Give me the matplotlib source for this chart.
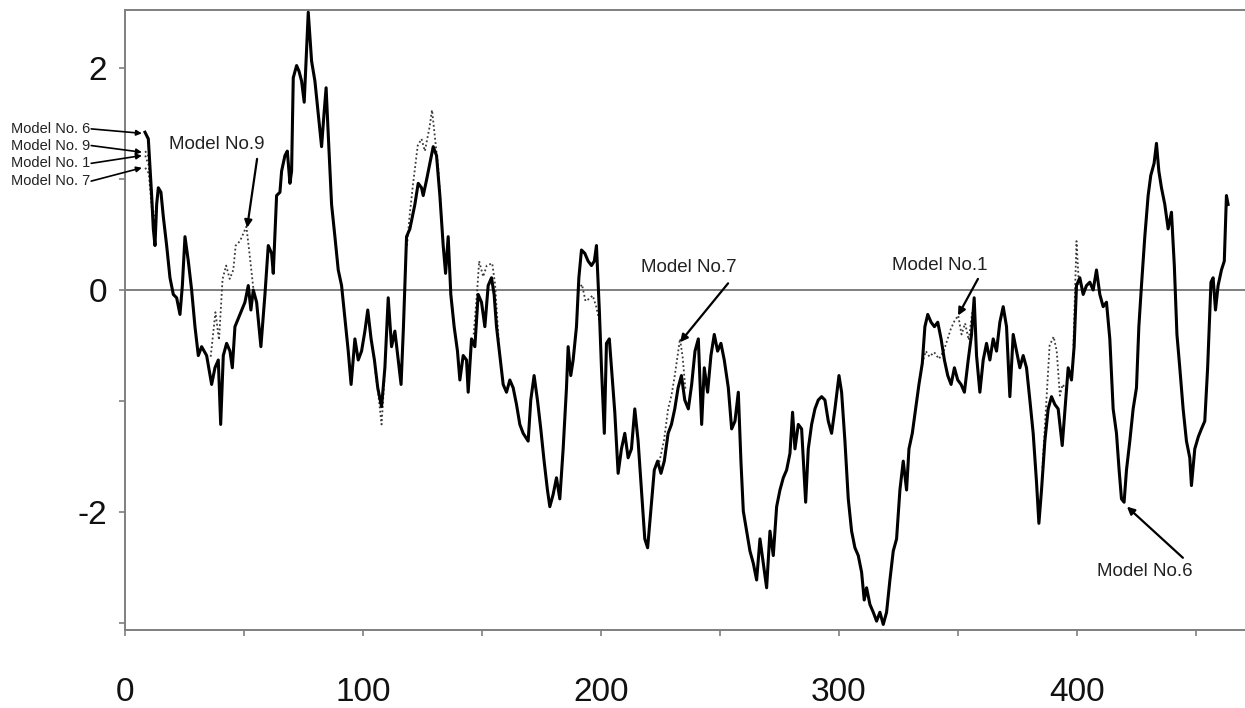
#%% import packages
import numpy as np
import matplotlib
matplotlib.use('Agg')
import matplotlib.pyplot as plt
from matplotlib import font_manager

plt.rcParams['axes.unicode_minus'] = False

#%% data
# main (solid) trace, Model No.6
x_main = [8.4, 9.8, 11.2, 11.9, 12.6, 13.3, 14.0, 15.1, 16.1, 17.5, 18.9, 20.3, 21.7, 23.1, 24.1, 25.2,
          26.6, 28.0, 29.4, 30.8, 32.2, 34.3, 36.4, 37.8, 39.2, 40.2, 41.3, 42.7, 44.1, 45.1, 46.2, 48.3,
          50.4, 51.8, 52.9, 53.9, 55.3, 57.1, 58.8, 60.2, 61.6, 62.3, 63.7, 65.1, 65.8, 67.2, 68.2, 69.3,
          70.0, 70.7, 72.1, 73.1, 74.2, 75.3, 76.3, 77.0, 78.4, 79.8, 81.2, 82.6, 83.6, 84.5, 85.4, 86.8,
          88.2, 89.6, 91.0, 92.4, 93.8, 95.0, 96.6, 98.0, 99.4, 100.8, 102.0, 103.4, 104.8, 106.2, 107.8,
          109.2, 110.6, 112.0, 113.4, 114.8, 116.0, 117.0, 118.3, 119.7, 121.8, 123.2, 124.6, 125.3,
          126.7, 128.1, 129.5, 130.9, 132.3, 133.7, 134.7, 135.8, 136.9, 138.3, 139.7, 140.7, 142.1,
          143.5, 144.2, 145.6, 147.0, 148.4, 149.8, 151.2, 152.6, 154.0, 155.1, 156.1, 157.5, 158.9,
          160.3, 161.7, 163.1, 164.5, 165.9, 167.3, 169.4, 170.5, 171.9, 173.3, 174.7, 176.1, 177.5,
          178.5, 179.9, 181.3, 182.7, 184.1, 185.5, 186.2, 187.3, 188.3, 189.7, 190.7, 191.8, 193.2,
          194.6, 196.0, 197.2, 198.1, 199.3, 200.2, 201.4, 202.3, 203.5, 204.4, 205.8, 207.2, 208.6,
          210.0, 211.4, 212.8, 214.2, 215.6, 217.0, 218.4, 219.6, 220.9, 222.4, 223.8, 225.2, 226.6,
          228.2, 229.6, 231.0, 232.4, 233.8, 235.2, 236.7, 238.1, 239.5, 240.9, 242.3, 243.4, 244.8,
          246.2, 247.6, 249.0, 250.4, 251.8, 253.5, 254.9, 256.3, 257.7, 258.8, 259.8, 261.2, 262.6,
          264.0, 265.4, 266.8, 268.2, 269.6, 271.0, 272.4, 273.8, 275.2, 276.6, 278.0, 279.4, 280.5,
          281.5, 282.9, 284.3, 286.0, 287.1, 288.5, 289.9, 291.3, 292.7, 294.1, 295.5, 296.9, 298.3,
          300.0, 301.1, 302.5, 303.9, 305.3, 306.7, 308.1, 309.5, 310.6, 311.6, 313.0, 314.4, 315.8,
          317.2, 318.6, 320.0, 321.4, 322.8, 324.2, 325.6, 327.0, 328.4, 329.4, 330.8, 332.2, 333.6,
          335.0, 336.1, 337.3, 338.7, 340.1, 341.5, 342.9, 344.3, 345.7, 347.1, 348.5, 349.9, 351.3,
          352.7, 354.3, 355.7, 356.8, 357.8, 359.2, 360.6, 362.0, 363.4, 364.8, 366.2, 367.6, 369.0,
          370.4, 371.8, 373.2, 374.6, 376.0, 377.4, 378.8, 380.2, 381.6, 383.0, 384.0, 385.1, 386.5,
          387.9, 389.3, 390.7, 392.1, 393.8, 395.0, 396.3, 397.7, 398.8, 399.8, 401.2, 402.6, 404.0,
          405.4, 406.8, 408.2, 409.6, 411.0, 412.4, 413.8, 415.2, 416.6, 417.7, 418.7, 419.8, 420.8,
          422.2, 423.6, 425.0, 426.0, 427.1, 428.5, 429.9, 431.0, 432.4, 433.4, 434.4, 435.5, 436.9,
          438.3, 439.7, 440.9, 442.0, 443.2, 444.6, 446.0, 447.4, 448.1, 449.5, 451.0, 452.3, 453.7,
          454.9, 456.3, 457.2, 458.2, 459.3, 460.7, 461.9, 462.8, 463.5]
y_main = [1.42, 1.36, 0.85, 0.55, 0.40, 0.77, 0.92, 0.88, 0.66, 0.40, 0.11, -0.04, -0.07, -0.22, 0.04, 0.48,
          0.26, 0.00, -0.33, -0.59, -0.51, -0.59, -0.85, -0.70, -0.63, -1.21, -0.59, -0.48, -0.55, -0.70, -0.33, -0.22,
          -0.11, 0.04, -0.18, 0.00, -0.11, -0.51, -0.04, 0.40, 0.33, 0.15, 0.85, 0.88, 1.07, 1.21, 1.25, 0.96,
          1.07, 1.91, 2.02, 1.97, 1.88, 1.69, 2.17, 2.50, 2.06, 1.88, 1.58, 1.29, 1.58, 1.82, 1.40, 0.77,
          0.48, 0.18, 0.04, -0.26, -0.55, -0.85, -0.44, -0.63, -0.55, -0.37, -0.18, -0.44, -0.63, -0.88, -1.05,
          -0.70, -0.07, -0.51, -0.37, -0.63, -0.85, -0.33, 0.48, 0.55, 0.77, 0.96, 0.92, 0.85,
          0.99, 1.14, 1.29, 1.21, 0.85, 0.40, 0.15, 0.48, -0.04, -0.33, -0.55, -0.81, -0.59,
          -0.63, -0.92, -0.44, -0.51, -0.04, -0.11, -0.33, 0.04, 0.11, -0.04, -0.33, -0.59, -0.85,
          -0.92, -0.81, -0.88, -1.03, -1.21, -1.29, -1.36, -0.99, -0.77, -0.99, -1.25, -1.54, -1.80,
          -1.95, -1.84, -1.69, -1.88, -1.43, -0.88, -0.51, -0.77, -0.63, -0.33, 0.11, 0.36, 0.33,
          0.26, 0.22, 0.26, 0.40, -0.18, -0.70, -1.29, -0.48, -0.44, -0.70, -1.10, -1.65, -1.43,
          -1.29, -1.51, -1.43, -1.07, -1.36, -1.80, -2.24, -2.32, -1.99, -1.62, -1.54, -1.65, -1.54,
          -1.29, -1.21, -1.07, -0.88, -0.77, -0.99, -1.07, -0.85, -0.55, -0.44, -1.21, -0.70, -0.92,
          -0.59, -0.40, -0.55, -0.48, -0.63, -0.88, -1.25, -1.18, -0.92, -1.54, -1.99, -2.17, -2.35,
          -2.46, -2.61, -2.24, -2.46, -2.68, -2.17, -2.39, -1.95, -1.80, -1.69, -1.62, -1.47, -1.10,
          -1.43, -1.21, -1.25, -1.91, -1.43, -1.21, -1.07, -0.99, -0.96, -0.99, -1.18, -1.29, -1.07,
          -0.77, -0.92, -1.36, -1.88, -2.17, -2.32, -2.39, -2.54, -2.79, -2.68, -2.83, -2.90, -2.98,
          -2.90, -3.01, -2.90, -2.61, -2.35, -2.24, -1.80, -1.54, -1.80, -1.43, -1.29, -1.07, -0.85,
          -0.66, -0.33, -0.22, -0.29, -0.33, -0.29, -0.44, -0.63, -0.77, -0.85, -0.70, -0.81, -0.85,
          -0.92, -0.63, -0.40, -0.07, -0.59, -0.92, -0.63, -0.48, -0.63, -0.44, -0.55, -0.29, -0.15,
          -0.33, -0.96, -0.40, -0.55, -0.70, -0.59, -0.70, -0.99, -1.29, -1.73, -2.10, -1.80, -1.36,
          -1.07, -0.96, -1.03, -1.07, -1.40, -1.07, -0.70, -0.81, -0.51, 0.04, 0.11, -0.04, 0.04,
          0.07, 0.00, 0.18, -0.04, -0.15, -0.11, -0.44, -1.07, -1.29, -1.62, -1.88, -1.91, -1.62,
          -1.36, -1.07, -0.88, -0.33, 0.04, 0.48, 0.85, 1.03, 1.14, 1.32, 1.07, 0.92, 0.77,
          0.55, 0.70, 0.22, -0.40, -0.70, -1.07, -1.36, -1.51, -1.76, -1.43, -1.32, -1.25, -1.18,
          -0.70, 0.07, 0.11, -0.18, 0.04, 0.18, 0.26, 0.85, 0.77]

# dotted models, only the stretches where they leave the main trace (nan = gap)
nan = np.nan
x_m9 = [8.5, 10.0, 11.5, 13.0, nan,
        36.0, 38.0, 39.5, 41.0, 42.5, 44.0, 45.5, 46.5, 48.3, 51.0, 52.2, 54.0, nan,
        105.0, 106.5, 107.8, 109.0, nan,
        118.5, 119.5, 121.0, 123.0, 124.6, 126.0, 128.0, 129.0, 130.2, 131.6, 133.0, nan,
        146.5, 148.0, 148.8, 150.5, 152.0, 154.3, 155.5, 157.0]
y_m9 = [1.25, 1.20, 0.75, 0.60, nan,
        -0.60, -0.20, -0.45, 0.10, 0.22, 0.10, 0.18, 0.40, 0.44, 0.57, 0.35, 0.00, nan,
        -0.70, -0.95, -1.21, -0.80, nan,
        0.40, 0.65, 0.95, 1.30, 1.36, 1.25, 1.47, 1.62, 1.38, 1.10, 0.65, nan,
        -0.40, 0.00, 0.26, 0.12, 0.22, 0.24, 0.05, -0.45]
x_m1 = [8.5, 10.0, 11.5, 12.5, nan,
        190.5, 192.0, 193.5, 195.0, 196.5, 198.0, 199.5, nan,
        335.0, 336.5, 338.0, 340.0, 342.0, 344.0, 345.5, 347.0, 348.5, 350.1, 351.5, 353.0, 354.5, 356.0]
y_m1 = [1.21, 1.12, 0.70, 0.50, nan,
        0.00, 0.05, -0.10, -0.08, -0.05, -0.15, -0.30, nan,
        -0.66, -0.55, -0.60, -0.56, -0.62, -0.55, -0.45, -0.35, -0.28, -0.23, -0.40, -0.30, -0.45, -0.20]
x_m7 = [8.5, 10.0, 11.0, 12.5, nan,
        224.5, 226.5, 228.2, 229.6, 231.0, 233.2, 234.3, 235.5, nan,
        385.5, 387.0, 388.5, 390.2, 391.5, 392.8, 394.0, 395.5, nan,
        398.5, 399.8, 400.8]
y_m7 = [1.10, 1.05, 0.80, 0.45, nan,
        -1.55, -1.35, -1.07, -0.95, -0.77, -0.44, -0.60, -0.90, nan,
        -1.60, -1.05, -0.50, -0.42, -0.55, -0.95, -0.85, -0.90, nan,
        -0.50, 0.44, 0.05]

# labels: (text, text position, arrow start, arrow tip)
side_labels = ['Model No. 6', 'Model No. 9', 'Model No. 1', 'Model No. 7']
side_text_y = [1.45, 1.30, 1.14, 0.98]
side_tip_y = [1.41, 1.24, 1.21, 1.10]
call_labels = ['Model No.9', 'Model No.7', 'Model No.1', 'Model No.6']
call_text = [(38.7, 1.31), (237.0, 0.20), (342.4, 0.22), (428.6, -2.53)]
call_from = [(55.5, 1.18), (253.4, 0.06), (358.4, 0.10), (444.5, -2.41)]
call_tip = [(51.3, 0.56), (233.2, -0.47), (350.0, -0.23), (421.0, -1.95)]


#%% fonts
def pick(names):
    for n in names:
        try:
            font_manager.findfont(n, fallback_to_default=False)
            return n
        except Exception:
            pass
    return 'DejaVu Sans'

narrow = pick(['Liberation Sans Narrow', 'Liberation Sans'])
sans = pick(['Liberation Sans', 'DejaVu Sans'])

#%% plot
grey = '#7f7f7f'
fig = plt.figure(figsize=(12.45, 7.08), dpi=100)
ax = fig.add_axes([125 / 1245, 78 / 708, 1 - 125 / 1245, 620 / 708])

ax.axhline(0, color=grey, lw=1.4, zorder=1)
dot = dict(color='#3a3a3a', lw=1.3, ls=(0, (1, 1.4)), zorder=2)
ax.plot(x_m9, y_m9, **dot)
ax.plot(x_m1, y_m1, **dot)
ax.plot(x_m7, y_m7, **dot)
ax.plot(x_main, y_main, color='black', lw=2.2, zorder=3)

ax.set_xlim(0, 470.6)
ax.set_ylim(-3.06, 2.52)

for sp in ['left', 'bottom', 'top']:
    ax.spines[sp].set_color(grey)
    ax.spines[sp].set_linewidth(1.4)
ax.spines['right'].set_visible(False)

ax.set_xticks([0, 100, 200, 300, 400])
ax.set_xticks([50, 150, 250, 350, 450], minor=True)
ax.set_yticks([-2, 0, 2])
ax.set_yticks([-3, -1, 1], minor=True)
ax.tick_params(which='both', direction='out', length=4, width=1.2, color=grey)
ax.tick_params(axis='x', which='major', pad=30)
ax.tick_params(axis='y', which='major', pad=9)
for lab in ax.get_xticklabels() + ax.get_yticklabels():
    lab.set_fontfamily(narrow)
    lab.set_fontsize(26 if narrow != sans else 24)
    lab.set_color('#111111')

arrow = dict(arrowstyle='-|>', color='black', lw=1.6, mutation_scale=11, shrinkA=0, shrinkB=0)
for lab, ty, tipy in zip(side_labels, side_text_y, side_tip_y):
    ax.text(-14.7, ty, lab, ha='right', va='center', fontsize=10.5, family=narrow, color='#222222')
    ax.annotate('', xy=(7.1, tipy), xytext=(-14.2, ty), annotation_clip=False,
                arrowprops=dict(arrowstyle='-|>', color='black', lw=1.2, mutation_scale=8,
                                shrinkA=0, shrinkB=0))
for lab, tp, fp, ip in zip(call_labels, call_text, call_from, call_tip):
    ax.text(tp[0], tp[1], lab, ha='center', va='center', fontsize=13.5, family=sans, color='#222222')
    ax.annotate('', xy=ip, xytext=fp, arrowprops=arrow)

fig.savefig('out.png', dpi=100)
